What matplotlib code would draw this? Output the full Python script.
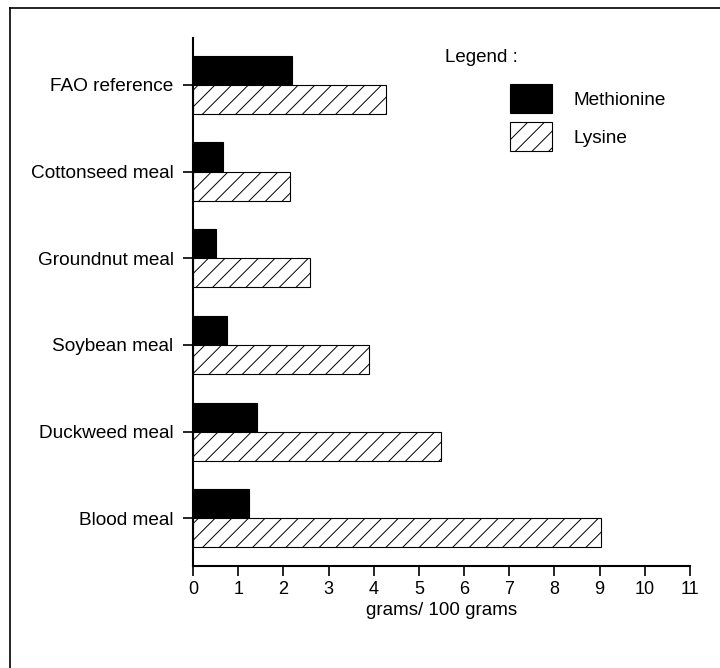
import matplotlib.pyplot as plt
import numpy as np

plt.rcParams['font.family'] = ['Liberation Sans', 'DejaVu Sans']
plt.rcParams['hatch.linewidth'] = 0.7

foods = ['FAO reference', 'Cottonseed meal', 'Groundnut meal',
         'Soybean meal', 'Duckweed meal', 'Blood meal']
methionine = [2.2, 0.67, 0.5, 0.76, 1.42, 1.25]
lysine = [4.28, 2.15, 2.59, 3.9, 5.48, 9.03]
xticks = list(range(0, 12))

fig = plt.figure(figsize=(7.2, 6.68), dpi=100)
ax = fig.add_axes([193/720, 1-566/668, 497/720, 528/668])

y = np.arange(len(foods))[::-1]
h = 0.335
b1 = ax.barh(y + h/2, methionine, height=h, color='black', edgecolor='black',
             linewidth=0.8, label='Methionine')
b2 = ax.barh(y - h/2, lysine, height=h, color='white', edgecolor='black',
             linewidth=0.8, hatch='//', label='Lysine')

ax.set_xlim(0, 11)
ax.set_ylim(-0.55, 5.54)
ax.set_xticks(xticks)
ax.set_yticks(y)
ax.set_yticklabels(foods)
ax.tick_params(axis='x', labelsize=13, length=7, width=1.2, direction='out', pad=4)
ax.tick_params(axis='y', labelsize=13.7, length=7, width=1.2, direction='out', pad=7)
ax.set_xlabel('grams/ 100 grams', fontsize=13.5, labelpad=3)

for s in ['top', 'right']:
    ax.spines[s].set_visible(False)
for s in ['left', 'bottom']:
    ax.spines[s].set_linewidth(1.5)

# legend
fig.text(445/720, 1-58/668, 'Legend :', fontsize=13.5, va='center', ha='left')
fig.legend(handles=[b1, b2], loc='upper left', bbox_to_anchor=(510/720, 1-84/668),
           frameon=False, fontsize=13.7, borderpad=0, borderaxespad=0,
           handlelength=2.2, handleheight=2.0, handletextpad=1.15,
           labelspacing=0.45)

# outer frame (left and top edges)
fig.add_artist(plt.Line2D([10/720, 10/720], [0, 1-8/668], color='black', lw=1.2,
                          transform=fig.transFigure))
fig.add_artist(plt.Line2D([10/720, 1], [1-8/668, 1-8/668], color='black', lw=1.2,
                          transform=fig.transFigure))

fig.savefig('out.png', dpi=100)
